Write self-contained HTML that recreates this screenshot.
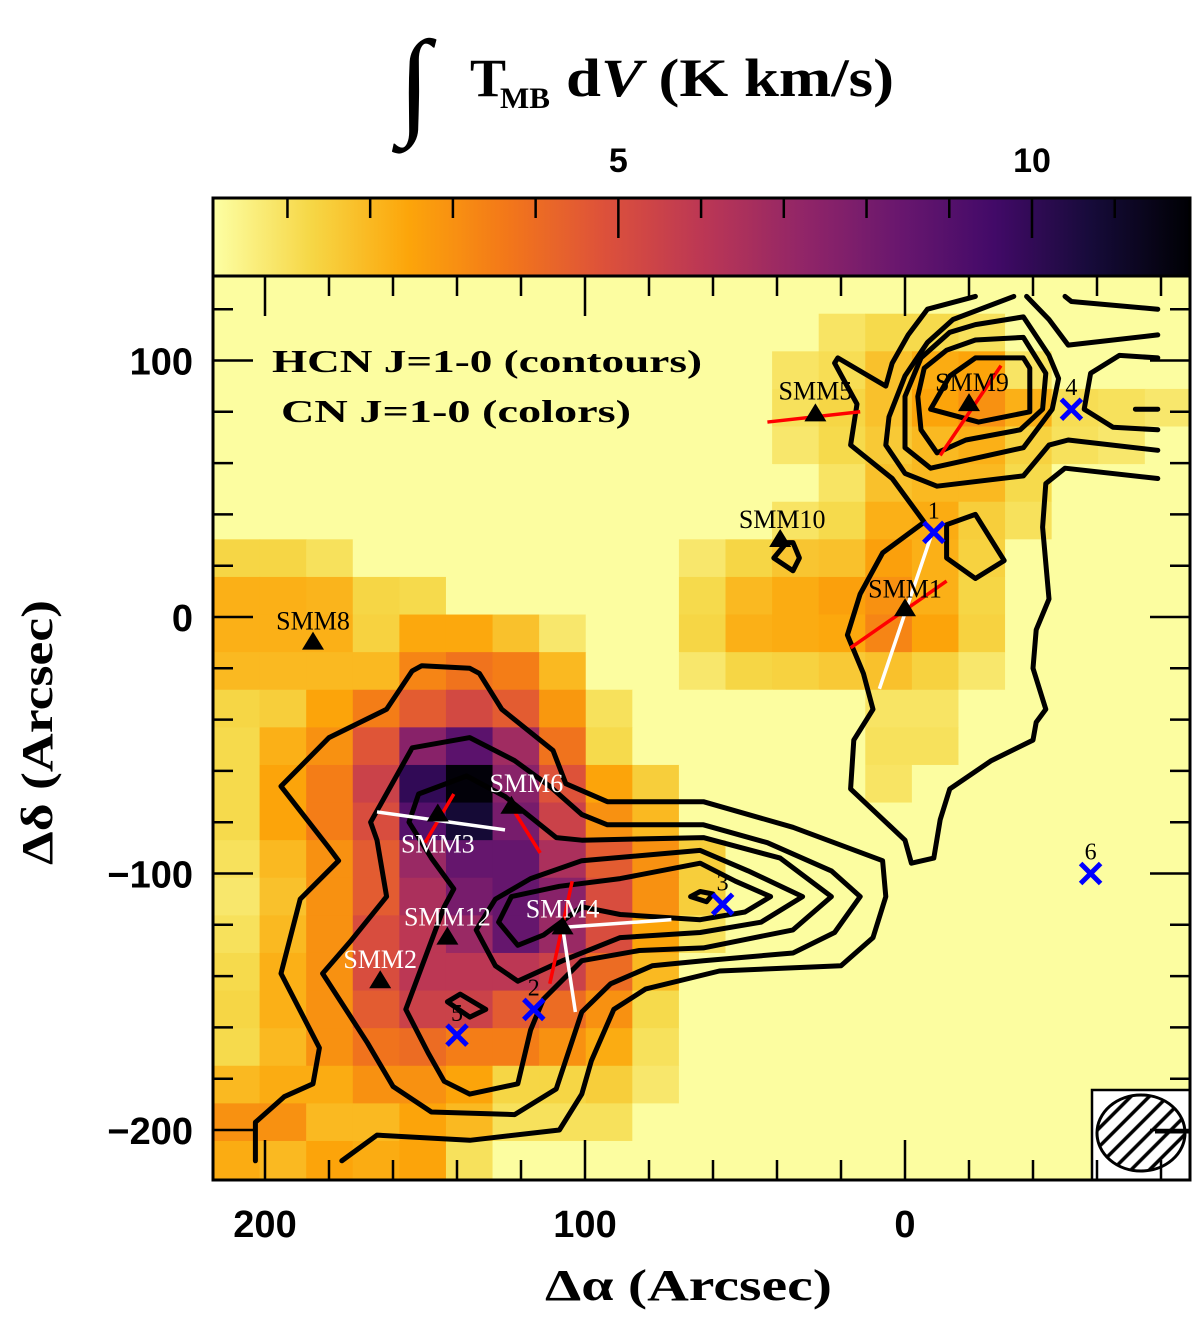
<!DOCTYPE html>
<html>
<head>
<meta charset="utf-8">
<style>
html,body{margin:0;padding:0;background:#ffffff;}
svg{display:block;}
text{font-family:"Liberation Serif","DejaVu Serif",serif;}
.num{font-family:"Liberation Sans","DejaVu Sans",sans-serif;font-weight:bold;}
</style>
</head>
<body>
<svg id="chart" width="1200" height="1318" viewBox="0 0 1200 1318" xmlns="http://www.w3.org/2000/svg">
<defs>
  <linearGradient id="cbgrad" x1="0" x2="1" y1="0" y2="0"></linearGradient>
  <clipPath id="plotclip"><rect x="213" y="276" width="977" height="904"/></clipPath>
  <pattern id="hatch" patternUnits="userSpaceOnUse" width="13" height="13" patternTransform="rotate(45)">
    <line x1="2" y1="0" x2="2" y2="13" stroke="#000" stroke-width="3.5"/>
  </pattern>
</defs>

<g>
  <text x="398" y="122" font-family="DejaVu Serif, serif" font-size="118" fill="#000">∫</text>
  <text x="470" y="96" font-size="54" font-weight="bold" fill="#000">T</text>
  <text x="500" y="108" font-size="30" font-weight="bold" fill="#000" textLength="50" lengthAdjust="spacingAndGlyphs">MB</text>
  <text x="566" y="96" font-size="54" font-weight="bold" fill="#000" textLength="328" lengthAdjust="spacingAndGlyphs">d<tspan font-style="italic">V</tspan> (K km/s)</text>
</g>

<g id="cbgroup"></g>
<g id="heat" clip-path="url(#plotclip)"></g>
<g id="contours" clip-path="url(#plotclip)"></g>
<g id="pol"></g>
<g id="marks"></g>

<g>
  <text x="272" y="372" font-size="32" font-weight="bold" fill="#000" textLength="430" lengthAdjust="spacingAndGlyphs">HCN J=1-0 (contours)</text>
  <text x="281" y="422" font-size="32" font-weight="bold" fill="#000" textLength="350" lengthAdjust="spacingAndGlyphs">CN J=1-0 (colors)</text>
</g>

<g>
  <rect x="1092" y="1090" width="98" height="90" fill="#ffffff" stroke="#000" stroke-width="2.5"/>
  <ellipse cx="1141" cy="1133" rx="44" ry="38" fill="url(#hatch)" stroke="#000" stroke-width="3"/>
  <line x1="1155" y1="1132" x2="1190" y2="1132" stroke="#000" stroke-width="3"/>
</g>

<g id="axes"></g>

<text x="545" y="1300" font-size="44" font-weight="bold" fill="#000" textLength="287" lengthAdjust="spacingAndGlyphs">Δα (Arcsec)</text>
<text transform="translate(52,865) rotate(-90)" x="0" y="0" font-size="44" font-weight="bold" fill="#000" textLength="265" lengthAdjust="spacingAndGlyphs">Δδ (Arcsec)</text>
</svg>

<script>
// ---------------- data ----------------
const VMIN = 0.1, VMAX = 11.91;
const cbTicks = [1,2,3,4,5,6,7,8,9,10,11];
const cbTickLabels = [5,10];
const xTickValues = [-80,-60,-40,-20,0,20,40,60,80,100,120,140,160,180,200];
const xTickLabels = [0,100,200];
const yTickValues = [-200,-180,-160,-140,-120,-100,-80,-60,-40,-20,0,20,40,60,80,100,120];
const yTickLabels = [-200,-100,0,100];

// CN integrated intensity grid (K km/s), rows top->bottom, columns east(left)->west(right)
const cnRow00 = [];
const cnRow01 = [.3,.3,.3,.3,.3,.3,.3,.3,.3,.3,.3,.3,.3,.9,1.2,1.2,1.0];
const cnRow02 = [.3,.3,.3,.3,.3,.3,.3,.3,.3,.3,.3,.3,.9,1.1,1.8,2.3,2.5,.9];
const cnRow03 = [.3,.3,.3,.3,.3,.3,.3,.3,.3,.3,.3,.3,1.0,1.3,1.8,2.5,3.0,2.2,1.1,1.0,.8];
const cnRow04 = [.3,.3,.3,.3,.3,.3,.3,.3,.3,.3,.3,.3,.8,1.2,1.6,2.0,2.2,1.4,1.0,.8];
const cnRow05 = [.3,.3,.3,.3,.3,.3,.3,.3,.3,.3,.3,.3,.3,.9,1.8,2.0,2.0,1.2];
const cnRow06 = [.3,.3,.3,.3,.3,.3,.3,.3,.3,.3,.3,.3,.9,1.2,2.2,2.3,1.5,1.0];
const cnRow07 = [1.3,1.3,1.0,.3,.3,.3,.3,.3,.3,.3,.8,1.3,1.7,1.8,2.6,2.2,1.4];
const cnRow08 = [2.2,2.2,2.1,1.3,1.2,.3,.3,.3,.3,.3,1.2,2.0,2.3,2.6,3.0,2.2,1.3];
const cnRow09 = [2.2,2.2,2.2,1.4,2.4,2.4,1.8,.8,.3,.3,1.3,2.2,2.3,2.4,3.3,2.5,1.4];
const cnRow10 = [2.0,2.0,2.0,2.0,3.3,3.8,3.5,2.0,.3,.3,.8,1.3,1.4,1.6,1.8,1.4,.8];
const cnRow11 = [1.3,1.5,2.5,3.5,4.5,5.2,4.5,2.8,1.0,.3,.3,.3,.3,.3,.9,.9];
const cnRow12 = [1.2,2.2,3.0,4.7,7.5,8.8,6.8,3.8,1.2,.3,.3,.3,.3,.3,1.0,1.0];
const cnRow13 = [1.2,2.5,3.5,5.5,10.0,11.8,7.5,4.8,2.5,1.5,.3,.3,.3,.3,.9];
const cnRow14 = [1.2,2.5,3.5,5.0,9.0,10.8,8.0,5.5,3.0,2.0];
const cnRow15 = [1.0,2.0,3.0,4.5,7.0,8.5,8.5,6.5,4.5,3.0,1.5];
const cnRow16 = [.8,1.8,3.0,4.5,6.5,8.0,8.5,7.5,5.0,3.0,1.5];
const cnRow17 = [1.0,2.0,3.0,5.0,6.0,7.0,8.5,7.0,5.0,2.5,1.0];
const cnRow18 = [1.2,2.2,3.0,5.0,6.0,6.0,6.0,5.5,4.0,2.0];
const cnRow19 = [1.3,2.2,3.0,4.5,5.5,5.5,4.5,4.0,3.0,1.2];
const cnRow20 = [1.2,2.0,3.0,3.8,4.0,3.5,3.5,3.0,2.3,1.0];
const cnRow21 = [2.0,2.3,2.3,3.0,3.0,2.5,1.3,1.3,1.5,.8];
const cnRow22 = [3.0,3.0,2.0,2.0,2.5,2.0,1.0,1.0,1.0];
const cnRow23 = [2.3,2.0,2.5,2.3,2.5,1.0];
const cnGrid = [cnRow00,cnRow01,cnRow02,cnRow03,cnRow04,cnRow05,cnRow06,cnRow07,cnRow08,cnRow09,cnRow10,cnRow11,
                cnRow12,cnRow13,cnRow14,cnRow15,cnRow16,cnRow17,cnRow18,cnRow19,cnRow20,cnRow21,cnRow22,cnRow23];
const CN_BG = 0.15;
const GRID_RA0 = 216.25, GRID_DEC0 = 132.9, CELL_RA = 14.56, CELL_DEC = 14.66, NCOLS = 21;

// HCN contours, [dRA, dDec] arcsec
const hcnC0 = [[176,-212],[165,-202],[136,-204],[108,-200],[101,-186],[98,-173],[91,-153],[81,-145],[58,-138],[20,-136],[10,-125],[6,-109],[7,-95],[35,-82],[63,-72],[93,-72],[106,-65],[110,-52],[126,-36],[133,-22],[136,-20],[151,-19],[154,-21],[162,-36],[180,-47],[195,-66],[180,-90],[177,-95],[189,-110],[195,-139],[183,-168],[185,-182],[194,-187],[203,-197],[203,-212]];
const hcnC1 = [[167,-80],[154,-51],[136,-47],[122,-56],[111,-66],[101,-77],[93,-81],[63,-81],[43,-88],[23,-99],[14,-109],[22,-123],[35,-131],[63,-134],[79,-136],[92,-143],[101,-154],[109,-184],[122,-194],[148,-193],[160,-183],[168,-166],[182,-139],[173,-126],[162,-109],[165,-87]];
const hcnC2 = [[155,-80],[152,-69],[137,-62],[125,-70],[115,-80],[109,-86],[101,-87],[63,-86],[39,-94],[23,-109],[35,-122],[63,-129],[83,-130],[101,-134],[113,-149],[117,-161],[121,-182],[136,-186],[144,-181],[149,-170],[156,-153],[144,-113],[141,-106],[148,-94]];
const hcnC3 = [[134,-122],[128,-110],[117,-102],[101,-95],[64,-91],[49,-99],[32,-109],[45,-119],[64,-123],[89,-125],[107,-134],[121,-142],[128,-136]];
const hcnC4 = [[127,-119],[123,-109],[108,-105],[89,-102],[64,-96],[53,-103],[42,-109],[50,-115],[64,-118],[89,-116],[101,-113],[113,-124],[121,-128]];
const hcnC5 = [[67,-109],[64,-107],[60,-108],[62,-111]];
const hcnC6 = [[143,-150],[139,-147],[131,-153],[136,-156]];
const hcnN0 = [[-22,125],[-7,120],[-1,110],[4,99],[6,90],[21,101],[22,99],[15,83],[17,67],[4,54],[-6,37],[7,25],[14,9],[18,-7],[13,-22],[10,-36],[16,-48],[17,-67],[0,-87],[-2,-96],[-9,-94],[-11,-79],[-14,-67],[-27,-56],[-40,-48],[-41,-41],[-44,-36],[-40,-20],[-41,-5],[-45,7],[-43,35],[-44,52],[-50,58],[-79,54]];
const hcnR1 = [[-22,101],[-37,101],[-39,97],[-39,80],[-23,76],[-8,81],[-14,94]];
const hcnR2 = [[-37,109],[-44,95],[-43,81],[-36,73],[-19,69],[-10,64],[-5,73],[-4,86],[-6,97],[-13,104],[-22,108]];
const hcnR3 = [[-37,117],[-45,102],[-48,93],[-46,81],[-37,66],[-8,58],[0,66],[0,86],[-5,101],[-14,111],[-22,114]];
const hcnR4 = [[-79,65],[-51,69],[-45,67],[-37,55],[-10,51],[0,56],[6,67],[5,78],[0,94],[-7,107],[-15,116],[-34,125]];
const hcnR5 = [[-38,125],[-45,116],[-51,106],[-79,110]];
const hcnR6 = [[-50,125],[-52,123],[-79,120]];
const hcnR7 = [[-79,101],[-67,102],[-58,95],[-56,81],[-65,74],[-79,73]];
const hcnR8 = [[-72,81],[-79,81]];
const hcnS10 = [[41,23],[37,29],[35,29],[33,23],[35,18]];
const hcnPent = [[-13,36],[-22,40],[-31,22],[-22,15],[-13,23]];
const closedContours = [hcnC1,hcnC2,hcnC3,hcnC4,hcnC5,hcnC6,hcnR1,hcnR2,hcnR3,hcnS10,hcnPent];
const openContours = [hcnC0,hcnN0,hcnR4,hcnR5,hcnR6,hcnR7,hcnR8];

// sources
const srcNames = ['SMM8','SMM3','SMM6','SMM12','SMM4','SMM2','SMM5','SMM9','SMM10','SMM1'];
const srcRa    = [185,146,123,143,107,164,28,-20,39,0];
const srcDec   = [-10,-77,-74,-125,-121,-142,79,83,30,3];
const srcLabelWhite = [false,true,true,true,true,true,false,false,false,false];
const srcLabelDx = [0,0,15,0,0,0,0,3,2,0];
const srcLabelDy = [-13,38,-15,-12,-10,-13,-15,-13,-12,-12];

// positions marked with blue crosses
const crossLabels = ['1','2','3','4','5','6'];
const crossRa  = [-9,116,57,-52,140,-58];
const crossDec = [33,-153,-112,81,-163,-100];

// polarization segments [ra1,dec1,ra2,dec2]
const redSegs = [[43,76,14,80],[-11,63,-30,98],[17,-12,-13,14],[141,-69,150,-88],[123,-74,114,-92],[104,-103,111,-143]];
const whiteSegs = [[8,-28,-8,31],[165,-76,125,-83],[107,-121,73,-118],[107,-121,103,-154]];

// ---------------- scales ----------------
const NS = 'http://www.w3.org/2000/svg';
function xS(ra){ return 905 - ra*3.2; }
function yS(dec){ return 617 - dec*2.565; }
function cbS(v){ return 213 + (v-VMIN)/(VMAX-VMIN)*977; }
const INF = [[0,0,4],[22,11,57],[66,10,104],[106,23,110],[147,38,103],[188,55,84],[221,81,58],[243,120,25],[252,165,10],[246,215,70],[252,255,164]];
function cmap(v){
  let t = 1 - (v-VMIN)/(VMAX-VMIN);
  t = Math.max(0, Math.min(1, t));
  const f = t*10; const i = Math.min(9, Math.floor(f)); const u = f - i;
  const a = INF[i], b = INF[i+1];
  return 'rgb(' + [0,1,2].map(k => Math.round(a[k] + (b[k]-a[k])*u)).join(',') + ')';
}
function mk(tag, attrs, parent){
  const e = document.createElementNS(NS, tag);
  for (const k in attrs) e.setAttribute(k, attrs[k]);
  parent.appendChild(e);
  return e;
}

// ---------------- colorbar ----------------
const grad = document.getElementById('cbgrad');
for (let i=0;i<=40;i++){
  const v = VMIN + (VMAX-VMIN)*i/40;
  mk('stop', {offset: (i/40*100)+'%', 'stop-color': cmap(v)}, grad);
}
const cbg = document.getElementById('cbgroup');
const cbRect = mk('rect', {x:213, y:198, width:977, height:78, fill:'url(#cbgrad)', stroke:'#000', 'stroke-width':3}, cbg);


cbTicks.forEach(v => {
  const major = cbTickLabels.indexOf(v) >= 0;
  const t = mk('line', {x1:cbS(v), x2:cbS(v), y1:198, y2:198+(major?40:20), stroke:'#000', 'stroke-width':2.5}, cbg);
  
  
});
cbTickLabels.forEach(v => {
  const t = mk('text', {x:cbS(v), y:172, 'text-anchor':'middle', 'font-size':34, class:'num', fill:'#000'}, cbg);
  t.textContent = String(v);
  
  
});

// ---------------- heatmap ----------------
const heat = document.getElementById('heat');
mk('rect', {x:213, y:276, width:977, height:904, fill:cmap(CN_BG)}, heat);
cnGrid.forEach((row, r) => {
  for (let c=0;c<NCOLS;c++){
    const raw = (c < row.length) ? row[c] : CN_BG;
    const v = raw <= 0.3 ? CN_BG : raw;
    const x0 = xS(GRID_RA0 - c*CELL_RA), x1 = xS(GRID_RA0 - (c+1)*CELL_RA);
    const y0 = yS(GRID_DEC0 - r*CELL_DEC), y1 = yS(GRID_DEC0 - (r+1)*CELL_DEC);
    const cell = mk('rect', {x:x0, y:y0, width:(x1-x0)+0.6, height:(y1-y0)+0.6, fill:cmap(v)}, heat);
    
    
  }
});

// ---------------- contours ----------------
const cg = document.getElementById('contours');
function contourPath(pts, closed){
  let d = pts.map((p,i) => (i?'L':'M') + xS(p[0]).toFixed(1) + ' ' + yS(p[1]).toFixed(1)).join(' ');
  if (closed) d += ' Z';
  return d;
}
closedContours.forEach(pts => {
  const p = mk('path', {d:contourPath(pts,true), fill:'none', stroke:'#000', 'stroke-width':5, 'stroke-linejoin':'round', 'stroke-linecap':'round'}, cg);
  
  
});
openContours.forEach(pts => {
  const p = mk('path', {d:contourPath(pts,false), fill:'none', stroke:'#000', 'stroke-width':5, 'stroke-linejoin':'round', 'stroke-linecap':'round'}, cg);
  
  
});

// ---------------- polarization ----------------
const pg = document.getElementById('pol');
redSegs.forEach(s => {
  const l = mk('line', {x1:xS(s[0]), y1:yS(s[1]), x2:xS(s[2]), y2:yS(s[3]), stroke:'#ff0000', 'stroke-width':3.5}, pg);
  
  
});
whiteSegs.forEach(s => {
  const l = mk('line', {x1:xS(s[0]), y1:yS(s[1]), x2:xS(s[2]), y2:yS(s[3]), stroke:'#ffffff', 'stroke-width':3.5}, pg);
  
  
});

// ---------------- sources & crosses ----------------
const mg = document.getElementById('marks');
srcNames.forEach((name, i) => {
  const x = xS(srcRa[i]), y = yS(srcDec[i]);
  const tri = mk('polygon', {points:(x)+','+(y-11)+' '+(x-11)+','+(y+7)+' '+(x+11)+','+(y+7), fill:'#000'}, mg);
  
  
  const t = mk('text', {x:x+srcLabelDx[i], y:y+srcLabelDy[i], 'text-anchor':'middle', 'font-size':26, fill: srcLabelWhite[i]?'#ffffff':'#000'}, mg);
  t.textContent = name;
  
  
});
crossLabels.forEach((lab, i) => {
  const x = xS(crossRa[i]), y = yS(crossDec[i]);
  const g = mk('g', {}, mg);
  
  
  mk('line', {x1:x-10, y1:y-10, x2:x+10, y2:y+10, stroke:'#0000ff', 'stroke-width':5}, g);
  mk('line', {x1:x-10, y1:y+10, x2:x+10, y2:y-10, stroke:'#0000ff', 'stroke-width':5}, g);
  const t = mk('text', {x:x, y:y-14, 'text-anchor':'middle', 'font-size':24, fill:'#000'}, mg);
  t.textContent = lab;
  
  
});

// ---------------- axes ----------------
const ag = document.getElementById('axes');
const frame = mk('rect', {x:213, y:276, width:977, height:904, fill:'none', stroke:'#000', 'stroke-width':3}, ag);


xTickValues.forEach(v => {
  const major = (v % 100 === 0);
  const len = major ? 40 : 20;
  const x = xS(v);
  const b = mk('line', {x1:x, x2:x, y1:1180, y2:1180-len, stroke:'#000', 'stroke-width':2.5}, ag);
  
  
  const t = mk('line', {x1:x, x2:x, y1:276, y2:276+len, stroke:'#000', 'stroke-width':2.5}, ag);
  
  
});
xTickLabels.forEach(v => {
  const t = mk('text', {x:xS(v), y:1237, 'text-anchor':'middle', 'font-size':38, class:'num', fill:'#000'}, ag);
  t.textContent = String(v);
  
  
});
yTickValues.forEach(v => {
  const major = (v % 100 === 0);
  const len = major ? 40 : 20;
  const y = yS(v);
  const l = mk('line', {x1:213, x2:213+len, y1:y, y2:y, stroke:'#000', 'stroke-width':2.5}, ag);
  
  
  const r = mk('line', {x1:1190, x2:1190-len, y1:y, y2:y, stroke:'#000', 'stroke-width':2.5}, ag);
  
  
});
yTickLabels.forEach(v => {
  const t = mk('text', {x:193, y:yS(v)+14, 'text-anchor':'end', 'font-size':38, class:'num', fill:'#000'}, ag);
  t.textContent = (v < 0 ? '\u2212' + Math.abs(v) : String(v));
  
  
});
</script>
</body>
</html>
